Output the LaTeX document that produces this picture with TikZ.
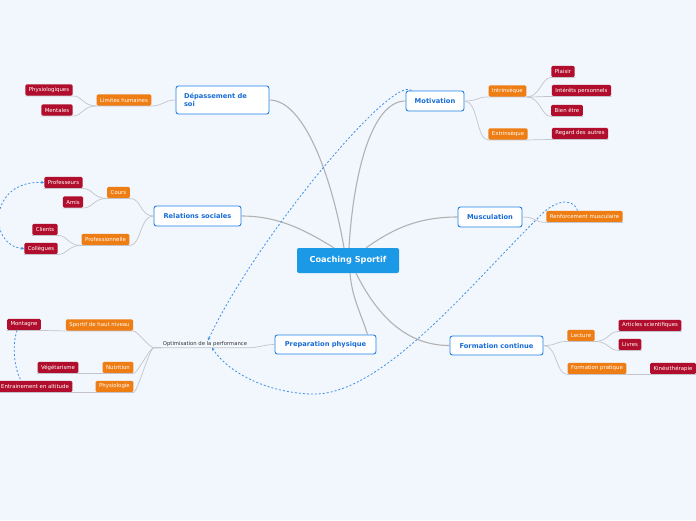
\documentclass[tikz,border=0pt]{standalone}
\usepackage{fontspec}
\setmainfont{DejaVu Sans}
\usetikzlibrary{arrows.meta}

\definecolor{bgcol}{RGB}{242,246,253}
\definecolor{rootblue}{RGB}{27,152,230}
\definecolor{topicblue}{RGB}{30,128,232}
\definecolor{topictext}{RGB}{24,108,214}
\definecolor{suborange}{RGB}{238,125,20}
\definecolor{leafred}{RGB}{176,14,44}
\definecolor{linkblue}{RGB}{62,146,230}
\definecolor{conngray}{RGB}{196,196,202}

\begin{document}
\begin{tikzpicture}[
  x=1pt,y=-1pt,
  >={Stealth[length=3pt,width=3pt]},
  root/.style={fill=rootblue,text=white,rounded corners=2pt,
               font=\bfseries\fontsize{8.2}{10}\selectfont,
               minimum width=102pt,minimum height=25pt},
  topic/.style={draw=topicblue,fill=white,line width=0.9pt,rounded corners=2.5pt,
                text=topictext,font=\bfseries\fontsize{6.7}{8}\selectfont,
                minimum height=20pt,inner xsep=7pt},
  sub/.style={fill=suborange,text=white,rounded corners=1.5pt,
              font=\fontsize{5.4}{6.5}\selectfont,minimum height=11.5pt,inner xsep=3.5pt,inner ysep=0pt},
  leaf/.style={sub,fill=leafred},
  plain/.style={font=\fontsize{5.3}{6.5}\selectfont,text=black!80,inner sep=1pt},
  conn/.style={draw=conngray,line width=0.7pt},
  rootconn/.style={draw=black!30,line width=1.1pt},
  relation/.style={draw=linkblue,line width=0.8pt,dash pattern=on 2pt off 2pt},
]

\useasboundingbox[fill=bgcol] (0,0) rectangle (696,520);

% --- centre ---
\node[root] (cs) at (348,260.5) {Coaching Sportif};

% --- main topics ---
\node[topic,minimum width=93pt,minimum height=28pt,text width=77pt,align=left]
     (dep) at (222.5,100) {Dépassement de\\soi};
\node[topic,minimum width=58pt] (mot) at (435,101) {Motivation};
\node[topic,minimum width=87pt] (rel) at (197.5,216) {Relations sociales};
\node[topic,minimum width=64pt] (mus) at (490,217) {Musculation};
\node[topic,minimum width=101pt,minimum height=19pt] (prep) at (325.5,344.5) {Preparation physique};
\node[topic,minimum width=93pt,minimum height=19pt] (form) at (496.5,345.5) {Formation continue};

% --- left: Depassement de soi ---
\node[sub]  (lim)   at (124,100) {Limites humaines};
\node[leaf] (physq) at (49,90)   {Physiologiques};
\node[leaf] (ment)  at (57,110)  {Mentales};

% --- left: Relations sociales ---
\node[sub]  (cours) at (118.5,192.5) {Cours};
\node[sub]  (pro)   at (105.5,239.5) {Professionnelle};
\node[leaf] (prof)  at (63.5,182.5)  {Professeurs};
\node[leaf] (amis)  at (73,202)      {Amis};
\node[leaf] (cli)   at (45,229.5)    {Clients};
\node[leaf] (coll)  at (41,248.5)    {Collègues};

% --- right: Motivation ---
\node[sub]  (intr)  at (507.5,91)  {Intrinsèque};
\node[sub]  (extr)  at (508,134)   {Extrinsèque};
\node[leaf] (plai)  at (563,71.5)  {Plaisir};
\node[leaf] (inte)  at (581.5,90.5) {Intérêts personnels};
\node[leaf] (bien)  at (567,110.5) {Bien être};
\node[leaf] (reg)   at (580,133.5) {Regard des autres};

% --- right: Musculation ---
\node[sub] (renf) at (584.5,216.5) {Renforcement musculaire};

% --- right: Formation continue ---
\node[sub]  (lect)  at (581,335.5) {Lecture};
\node[sub]  (fprat) at (597,368.5) {Formation pratique};
\node[leaf] (art)   at (650,325.5) {Articles scientifiques};
\node[leaf] (liv)   at (630,344.5) {Livres};
\node[leaf] (kine)  at (673,368.5) {Kinésithérapie};

% --- left: Preparation physique ---
\node[plain] (opt)   at (205,344)   {Optimisation de la performance};
\node[sub]   (sport) at (99.5,325)  {Sportif de haut niveau};
\node[sub]   (nutr)  at (118,367.5) {Nutrition};
\node[sub]   (phys)  at (114.5,386.5) {Physiologie};
\node[leaf]  (mont)  at (24,324.5)  {Montagne};
\node[leaf]  (veg)   at (58,367.5)  {Végétarisme};
\node[leaf]  (entr)  at (35,386.5)  {Entrainement en altitude};

% --- branches from the centre ---
\draw[rootconn] (dep.east)  .. controls +(35,0)  and +(-12,-70) .. ([xshift=-4pt]cs.north);
\draw[rootconn] (mot.west)  .. controls +(-35,0) and +(4,-70)   .. ([xshift=1pt]cs.north);
\draw[rootconn] (rel.east)  .. controls +(40,0)  and +(-25,-15) .. ([xshift=-14pt]cs.north);
\draw[rootconn] (mus.west)  .. controls +(-45,0) and +(22,-15)  .. ([xshift=18pt]cs.north);
\draw[rootconn] ([xshift=2pt]cs.south) .. controls +(2,25) and +(-6,-20) .. ([xshift=42pt]prep.north);
\draw[rootconn] ([xshift=8pt]cs.south) .. controls +(20,40) and +(-45,0) .. (form.west);

% --- topic to subtopic ---
\draw[conn] (dep.west) .. controls +(-12,0) and +(12,0) .. (lim.south east) -- (lim.south west);
\draw[conn] (rel.west) .. controls +(-14,0) and +(12,0) .. (cours.south east) -- (cours.south west);
\draw[conn] (rel.west) .. controls +(-14,0) and +(12,0) .. (pro.south east) -- (pro.south west);
\draw[conn] (mot.east) .. controls +(14,0) and +(-12,0) .. (intr.south west) -- (intr.south east);
\draw[conn] (mot.east) .. controls +(14,0) and +(-12,0) .. (extr.south west) -- (extr.south east);
\draw[conn] (mus.east) .. controls +(14,0) and +(-12,0) .. (renf.south west) -- (renf.south east);
\draw[conn] (form.east) .. controls +(14,0) and +(-12,0) .. (lect.south west) -- (lect.south east);
\draw[conn] (form.east) .. controls +(14,0) and +(-12,0) .. (fprat.south west) -- (fprat.south east);
\draw[conn] (prep.west) .. controls +(-10,0) and +(10,0) .. (opt.south east) -- (opt.south west);

% --- subtopic to leaf ---
\foreach \c in {physq,ment}
  \draw[conn] (lim.south west) .. controls +(-14,0) and +(10,0) .. (\c.south east) -- (\c.south west);
\foreach \c in {prof,amis}
  \draw[conn] (cours.south west) .. controls +(-14,0) and +(10,0) .. (\c.south east) -- (\c.south west);
\foreach \c in {cli,coll}
  \draw[conn] (pro.south west) .. controls +(-14,0) and +(10,0) .. (\c.south east) -- (\c.south west);
\foreach \c in {plai,inte,bien}
  \draw[conn] (intr.south east) .. controls +(14,0) and +(-10,0) .. (\c.south west) -- (\c.south east);
\draw[conn] (extr.south east) -- (reg.south west) -- (reg.south east);
\foreach \c in {art,liv}
  \draw[conn] (lect.south east) .. controls +(14,0) and +(-10,0) .. (\c.south west) -- (\c.south east);
\draw[conn] (fprat.south east) -- (kine.south west) -- (kine.south east);
\foreach \c in {sport,nutr,phys}
  \draw[conn] (opt.south west) -- ++(-8,0) .. controls +(-4,0) and +(4,0) .. (\c.south east) -- (\c.south west);
\draw[conn] (sport.south west) -- (mont.south east) -- (mont.south west);
\draw[conn] (nutr.south west) -- (veg.south east) -- (veg.south west);
\draw[conn] (phys.south west) -- (entr.south east) -- (entr.south west);

% --- relations (dashed) ---
\draw[relation,->] ([xshift=6pt]mot.north west) .. controls (392,74) and (255,240) .. ([xshift=3pt]opt.north);
\draw[relation,->] ([xshift=-7pt]renf.north) .. controls (572,196) and (553,201) .. (538,218)
      .. controls (470,285) and (380,398) .. (310,394)
      .. controls (265,392) and (228,372) .. ([xshift=7pt]opt.south);
\draw[relation,<->] (prof.west) .. controls (-12,180) and (-12,246) .. (coll.west);
\draw[relation] ([xshift=-7pt]mont.south) .. controls (12,345) and (14,368) .. ([xshift=-14pt]entr.north);

\end{tikzpicture}
\end{document}
